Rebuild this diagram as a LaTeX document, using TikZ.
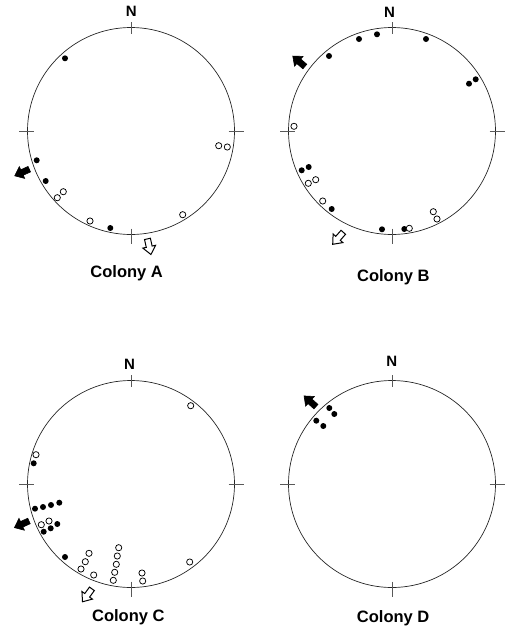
\documentclass[tikz,border=0pt]{standalone}
\usepackage{fontspec}
\setmainfont{Liberation Sans}
\tikzset{
  ring/.style={line width=0.7pt, draw=black!85},
  crossmark/.style={line width=0.6pt, draw=black!65},
  fulldot/.style={fill=black},
  opendot/.style={draw=black, fill=white, line width=0.75pt},
  northlabel/.style={font=\bfseries\fontsize{15}{15}\selectfont, anchor=base, inner sep=0pt},
  colonylabel/.style={font=\bfseries\fontsize{16.5}{16.5}\selectfont, anchor=base, inner sep=0pt},
  flow/.pic={
    \path[pic actions] (-8,-3) -- (0,-3) -- (0,-6.5) -- (8,0) -- (0,6.5) -- (0,3) -- (-8,3) -- cycle;
  }
}
\begin{document}
\begin{tikzpicture}[x=1pt, y=1pt]
  \useasboundingbox (0,0) rectangle (508,-627);
  % circles with compass ticks
  \foreach \cx/\cy/\nm in {131/131/A, 392/131/B, 131/484/C, 392/484/D} {
    \coordinate (o\nm) at (\cx,-\cy);
    \draw[ring] (o\nm) circle (103.5pt);
    \draw[crossmark] ([shift={(0,97.5)}]o\nm) -- ([shift={(0,109.5)}]o\nm);
    \draw[crossmark] ([shift={(0,-97.5)}]o\nm) -- ([shift={(0,-112.5)}]o\nm);
    \draw[crossmark] ([shift={(97.5,0)}]o\nm) -- ([shift={(112.5,0)}]o\nm);
    \draw[crossmark] ([shift={(-97.5,0)}]o\nm) -- ([shift={(-112.5,0)}]o\nm);
  }
  % labels
  \node[northlabel] (nA) at (131.3,-16.7) {N};
  \node[northlabel] (nB) at (389.5,-17.7) {N};
  \node[northlabel] (nC) at (129.5,-369.3) {N};
  \node[northlabel] (nD) at (391.8,-366.7) {N};
  \node[colonylabel] (cA) at (126.7,-277) {Colony A};
  \node[colonylabel] (cB) at (393.3,-281.5) {Colony B};
  \node[colonylabel] (cC) at (128.3,-621) {Colony C};
  \node[colonylabel] (cD) at (393.2,-622.5) {Colony D};
  % colony A
  \foreach \x/\y in {65/58.3, 36.7/160.3, 45.7/181, 110.3/228}
    \fill[fulldot] (\x,-\y) circle (3pt);
  \foreach \x/\y in {63.3/191.7, 57.3/197.7, 90/221, 182.7/214.7, 218.7/145.7, 227.3/147}
    \draw[opendot] (\x,-\y) circle (3.1pt);
  \pic[draw=black, fill=black, line width=0.6pt, rotate=204.5] at (22,-172.5) {flow};
  \pic[draw=black, fill=white, line width=1pt, rotate=282.5] at (149.2,-246.7) {flow};
  % colony B
  \foreach \x/\y in {329/56, 359/39, 377/34.3, 426/39, 469/83.7, 475.7/79.3,
                     301.7/170.3, 308.7/167, 331.7/209, 382/229.3, 404.3/229}
    \fill[fulldot] (\x,-\y) circle (3pt);
  \foreach \x/\y in {294/126.3, 308.3/183.3, 315.7/179.7, 322.7/201, 409.3/228.3,
                     433.3/211.7, 437/219}
    \draw[opendot] (\x,-\y) circle (3.1pt);
  \pic[draw=black, fill=black, line width=0.6pt, rotate=139] at (298.8,-61.3) {flow};
  \pic[draw=black, fill=white, line width=1pt, rotate=228.5] at (338,-238.3) {flow};
  % colony C
  \foreach \x/\y in {33.7/463.3, 35/508.7, 43/507, 51/505, 59.3/502.7,
                     43.7/531.7, 50.7/528.3, 57.3/524, 65/557}
    \fill[fulldot] (\x,-\y) circle (3pt);
  \foreach \x/\y in {190.7/405.7, 36/454.7, 41.3/524.7, 49/521, 89/553.3, 85.3/561.7,
                     81/569, 93.7/575, 118.7/547.7, 117.3/556, 116.3/564.3,
                     114.7/572.3, 113.3/580.3, 142/573, 142.7/581, 189.7/562}
    \draw[opendot] (\x,-\y) circle (3.1pt);
  \pic[draw=black, fill=black, line width=0.6pt, rotate=204.5] at (21.7,-524.3) {flow};
  \pic[draw=black, fill=white, line width=1pt, rotate=234] at (87.2,-595.3) {flow};
  % colony D
  \foreach \x/\y in {329.3/408, 334.3/414, 316.3/420.7, 323.3/426}
    \fill[fulldot] (\x,-\y) circle (3pt);
  \pic[draw=black, fill=black, line width=0.6pt, rotate=138] at (310,-401.3) {flow};
\end{tikzpicture}
\end{document}
